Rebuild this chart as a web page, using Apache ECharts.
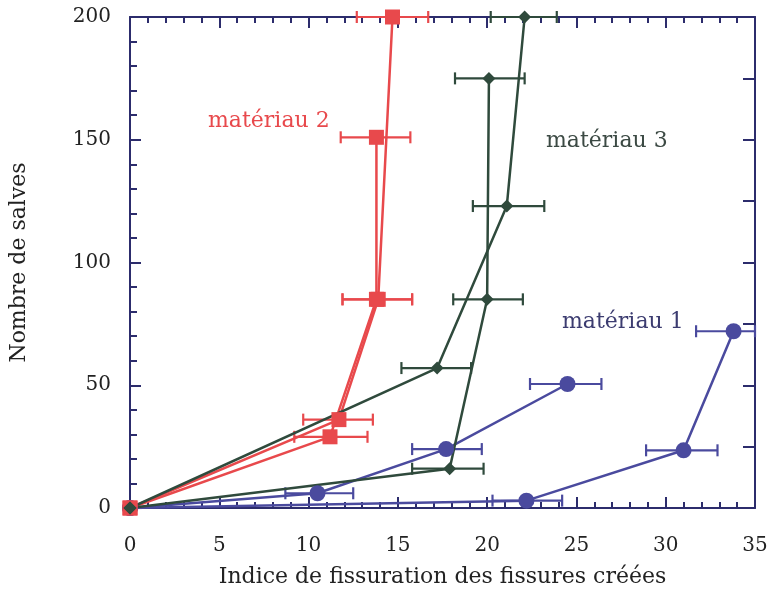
<!DOCTYPE html>
<html>
<head>
<meta charset="utf-8">
<script src="https://cdn.jsdelivr.net/npm/echarts@6/dist/echarts.min.js"></script>
<style>html,body{margin:0;padding:0;background:#fff;}#c{width:783px;height:593px;}</style>
</head>
<body>
<div id="c"></div>
<script>
// ---- data (x = indice de fissuration, y = nombre de salves) ----
const m1aX = [0, 10.5, 17.7, 24.5];
const m1aY = [0, 6, 24, 50.5];
const m1aLo = [0, 8.7, 15.8, 22.4];
const m1aHi = [0, 12.5, 19.7, 26.4];

const m1bX = [0, 22.2, 31.0, 33.8];
const m1bY = [0, 3, 23.5, 72];
const m1bLo = [0, 20.3, 28.9, 31.7];
const m1bHi = [0, 24.2, 32.9, 35];

const m2aX = [0, 11.7, 13.9, 14.7];
const m2aY = [0, 36, 85, 200];
const m2aLo = [0, 9.7, 11.9, 12.7];
const m2aHi = [0, 13.6, 15.8, 16.7];

const m2bX = [0, 11.2, 13.8, 13.8];
const m2bY = [0, 29, 85, 151];
const m2bLo = [0, 9.2, 11.9, 11.8];
const m2bHi = [0, 13.3, 15.8, 15.7];

const m3aX = [0, 17.2, 21.1, 22.1];
const m3aY = [0, 57, 123, 200];
const m3aLo = [0, 15.2, 19.2, 20.2];
const m3aHi = [0, 19.1, 23.2, 23.9];

const m3bX = [0, 17.9, 20.0, 20.1];
const m3bY = [0, 16, 85, 175];
const m3bLo = [0, 15.8, 18.1, 18.2];
const m3bHi = [0, 19.8, 22.0, 22.1];

const labels = ['matériau 1', 'matériau 2', 'matériau 3'];
const xTitle = 'Indice de fissuration des fissures créées';
const yTitle = 'Nombre de salves';

// ---- styles ----
const AX = '#2c2c6c';
const C1 = '#4a4a9e';
const C2 = '#e8494c';
const C3 = '#2f4a3c';
const FONT = 'DejaVu Serif';

function pts(xs, ys) { return xs.map((x, i) => [x, ys[i]]); }
function errs(ys, lo, hi) { return ys.map((y, i) => [lo[i], hi[i], y]); }

function lineSeries(name, xs, ys, color, symbol, size) {
  return {
    name: name, type: 'line', data: pts(xs, ys),
    symbol: symbol, symbolSize: size, showSymbol: true,
    lineStyle: { color: color, width: 2.5 },
    itemStyle: { color: color, opacity: 1 },
    z: 3, animation: false, clip: false
  };
}
function errSeries(ys, lo, hi, color) {
  return {
    type: 'custom', data: errs(ys, lo, hi), z: 2, animation: false,
    renderItem: function (params, api) {
      const l = api.value(0), h = api.value(1), y = api.value(2);
      if (l === h) return null;
      const p1 = api.coord([l, y]), p2 = api.coord([h, y]);
      const st = { stroke: color, lineWidth: 2.2 };
      return {
        type: 'group', children: [
          { type: 'line', shape: { x1: p1[0], y1: p1[1], x2: p2[0], y2: p2[1] }, style: st },
          { type: 'line', shape: { x1: p1[0], y1: p1[1] - 6, x2: p1[0], y2: p1[1] + 6 }, style: st },
          { type: 'line', shape: { x1: p2[0], y1: p2[1] - 6, x2: p2[0], y2: p2[1] + 6 }, style: st }
        ]
      };
    }
  };
}

const chart = echarts.init(document.getElementById('c'), null, { renderer: 'canvas' });
const axCommon = {
  type: 'value', min: 0, max: 35, interval: 5,
  axisLine: { show: true, onZero: false, lineStyle: { color: AX, width: 2 } },
  axisTick: { show: true, inside: true, length: 11, lineStyle: { color: AX, width: 2 } },
  minorTick: { show: true, splitNumber: 5, length: 6, lineStyle: { color: AX, width: 2 } },
  splitLine: { show: false }
};
chart.setOption({
  backgroundColor: '#ffffff',
  animation: false,
  grid: { left: 130, right: 28, top: 17, bottom: 80, containLabel: false },
  xAxis: [
    Object.assign({}, axCommon, {
      position: 'bottom',
      axisLabel: { show: true, color: '#222', fontFamily: FONT, fontSize: 20, margin: 28 },
      name: xTitle, nameLocation: 'middle', nameGap: 58,
      nameTextStyle: { color: '#222', fontFamily: FONT, fontSize: 22 }
    }),
    Object.assign({}, axCommon, { position: 'top', axisLabel: { show: false } })
  ],
  yAxis: [
    {
      type: 'value', min: 0, max: 200, interval: 50, position: 'left',
      axisLine: { show: true, onZero: false, lineStyle: { color: AX, width: 2 } },
      axisTick: { show: true, inside: true, length: 11, lineStyle: { color: AX, width: 2 } },
      minorTick: { show: true, splitNumber: 5, length: 7, lineStyle: { color: AX, width: 2 } },
      splitLine: { show: false },
      axisLabel: { show: true, color: '#222', fontFamily: FONT, fontSize: 20, margin: 19 },
      name: yTitle, nameLocation: 'middle', nameGap: 100, nameRotate: 90,
      nameTextStyle: { color: '#222', fontFamily: FONT, fontSize: 22 }
    },
    {
      type: 'value', min: 0, max: 200, interval: 25, position: 'right',
      axisLine: { show: true, onZero: false, lineStyle: { color: AX, width: 2 } },
      axisTick: { show: true, inside: true, length: 12, lineStyle: { color: AX, width: 2 } },
      splitLine: { show: false }, axisLabel: { show: false }
    }
  ],
  graphic: [
    { type: 'text', left: 208, top: 110, style: { text: labels[1], fill: C2, font: '22px "' + FONT + '"' } },
    { type: 'text', left: 546, top: 130, style: { text: labels[2], fill: '#3c4a44', font: '22px "' + FONT + '"' } },
    { type: 'text', left: 562, top: 311, style: { text: labels[0], fill: '#3c3c70', font: '22px "' + FONT + '"' } }
  ],
  series: [
    errSeries(m1aY, m1aLo, m1aHi, C1),
    errSeries(m1bY, m1bLo, m1bHi, C1),
    errSeries(m2aY, m2aLo, m2aHi, C2),
    errSeries(m2bY, m2bLo, m2bHi, C2),
    errSeries(m3aY, m3aLo, m3aHi, C3),
    errSeries(m3bY, m3bLo, m3bHi, C3),
    lineSeries(labels[0], m1aX, m1aY, C1, 'circle', 16),
    lineSeries(labels[0], m1bX, m1bY, C1, 'circle', 16),
    lineSeries(labels[1], m2aX, m2aY, C2, 'rect', 15),
    lineSeries(labels[1], m2bX, m2bY, C2, 'rect', 15),
    lineSeries(labels[2], m3aX, m3aY, C3, 'diamond', 13),
    lineSeries(labels[2], m3bX, m3bY, C3, 'diamond', 13)
  ]
});
</script>
</body>
</html>
